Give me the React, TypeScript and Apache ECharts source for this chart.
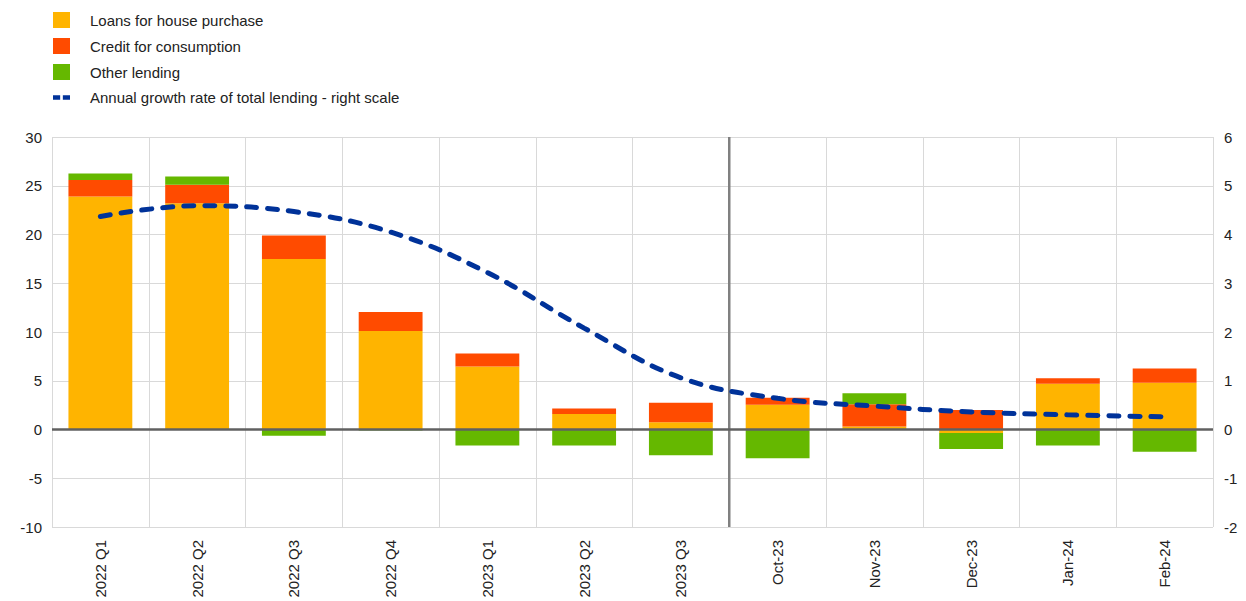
import React, { useEffect, useRef } from "react";
import * as echarts from "echarts";

const categories = ["2022 Q1", "2022 Q2", "2022 Q3", "2022 Q4", "2023 Q1", "2023 Q2", "2023 Q3", "Oct-23", "Nov-23", "Dec-23", "Jan-24", "Feb-24"];
const housePurchase = [23.9, 23.2, 17.5, 10.1, 6.45, 1.6, 0.75, 2.55, 0.3, -0.35, 4.7, 4.8];
const consumption = [1.7, 1.9, 2.4, 1.95, 1.35, 0.55, 2.0, 0.7, 2.3, 2.0, 0.55, 1.45];
const otherLending = [0.65, 0.85, -0.65, -0.1, -1.65, -1.65, -2.65, -2.95, 1.12, -1.65, -1.65, -2.28];
const growthRate = [4.37, 4.59, 4.47, 4.05, 3.22, 2.08, 1.06, 0.64, 0.48, 0.36, 0.3, 0.26];
const leftTicks = { min: -10, max: 30, interval: 5 };
const rightTicks = { min: -2, max: 6, interval: 1 };
const separatorAt = [[7, -10], [7, 30]];

const FONT = "Liberation Sans, Arial, sans-serif";

export default function App() {
  const ref = useRef<HTMLDivElement>(null);
  useEffect(() => {
    if (!ref.current) return;
    const chart = echarts.init(ref.current, undefined, { renderer: "svg" });
    const grid = "#d9d9d9";
    chart.setOption({
      animation: false,
      textStyle: { fontFamily: FONT },
      legend: {
        orient: "vertical",
        left: 53,
        top: 12,
        padding: 0,
        itemGap: 10,
        itemWidth: 17,
        itemHeight: 16,
        selectedMode: false,
        textStyle: { fontFamily: FONT, fontSize: 15, color: "#222", padding: [0, 0, 0, 15] },
        data: [
          { name: "Loans for house purchase", icon: "rect" },
          { name: "Credit for consumption", icon: "rect" },
          { name: "Other lending", icon: "rect" },
          { name: "Annual growth rate of total lending - right scale", icon: "path://M0,0h8v5h-8z M11,0h8v5h-8z" },
        ],
      },
      grid: { left: 52, right: 33, top: 137, bottom: 74, containLabel: false },
      xAxis: [
        {
          type: "category",
          data: categories,
          axisLine: { show: false },
          axisTick: { show: false },
          splitLine: { show: true, lineStyle: { color: grid, width: 1 } },
          axisLabel: { rotate: 90, margin: 13, fontFamily: FONT, fontSize: 15, color: "#222", interval: 0 },
        },
        { type: "value", min: 0, max: 12, show: false },
      ],
      yAxis: [
        {
          type: "value",
          ...leftTicks,
          axisLine: { show: false },
          axisTick: { show: false },
          splitLine: { lineStyle: { color: grid, width: 1 } },
          axisLabel: { margin: 10, fontFamily: FONT, fontSize: 15, color: "#222" },
        },
        {
          type: "value",
          ...rightTicks,
          axisLine: { show: false },
          axisTick: { show: false },
          splitLine: { show: false },
          axisLabel: { margin: 11, fontFamily: FONT, fontSize: 15, color: "#222" },
        },
      ],
      series: [
        {
          name: "Loans for house purchase",
          type: "bar",
          stack: "total",
          data: housePurchase,
          barWidth: "66%",
          itemStyle: { color: "#FFB400" },
          markLine: {
            silent: true,
            symbol: "none",
            label: { show: false },
            lineStyle: { color: "#606060", width: 2.5, type: "solid" },
            data: [{ yAxis: 0 }],
          },
        },
        { name: "Credit for consumption", type: "bar", stack: "total", data: consumption, itemStyle: { color: "#FF4B00" } },
        { name: "Other lending", type: "bar", stack: "total", data: otherLending, itemStyle: { color: "#65B800" } },
        {
          name: "separator",
          type: "line",
          xAxisIndex: 1,
          yAxisIndex: 0,
          data: separatorAt,
          showSymbol: false,
          silent: true,
          lineStyle: { color: "#808080", width: 2.5 },
        },
        {
          name: "Annual growth rate of total lending - right scale",
          type: "line",
          yAxisIndex: 1,
          data: growthRate,
          smooth: 0.4,
          showSymbol: false,
          itemStyle: { color: "#003299" },
          lineStyle: { color: "#003299", width: 5, type: [10, 11], cap: "round" },
          z: 5,
        },
      ],
    });
    return () => chart.dispose();
  }, []);
  return <div ref={ref} style={{ width: 1246, height: 601, position: "absolute", left: 0, top: 0 }} />;
}
